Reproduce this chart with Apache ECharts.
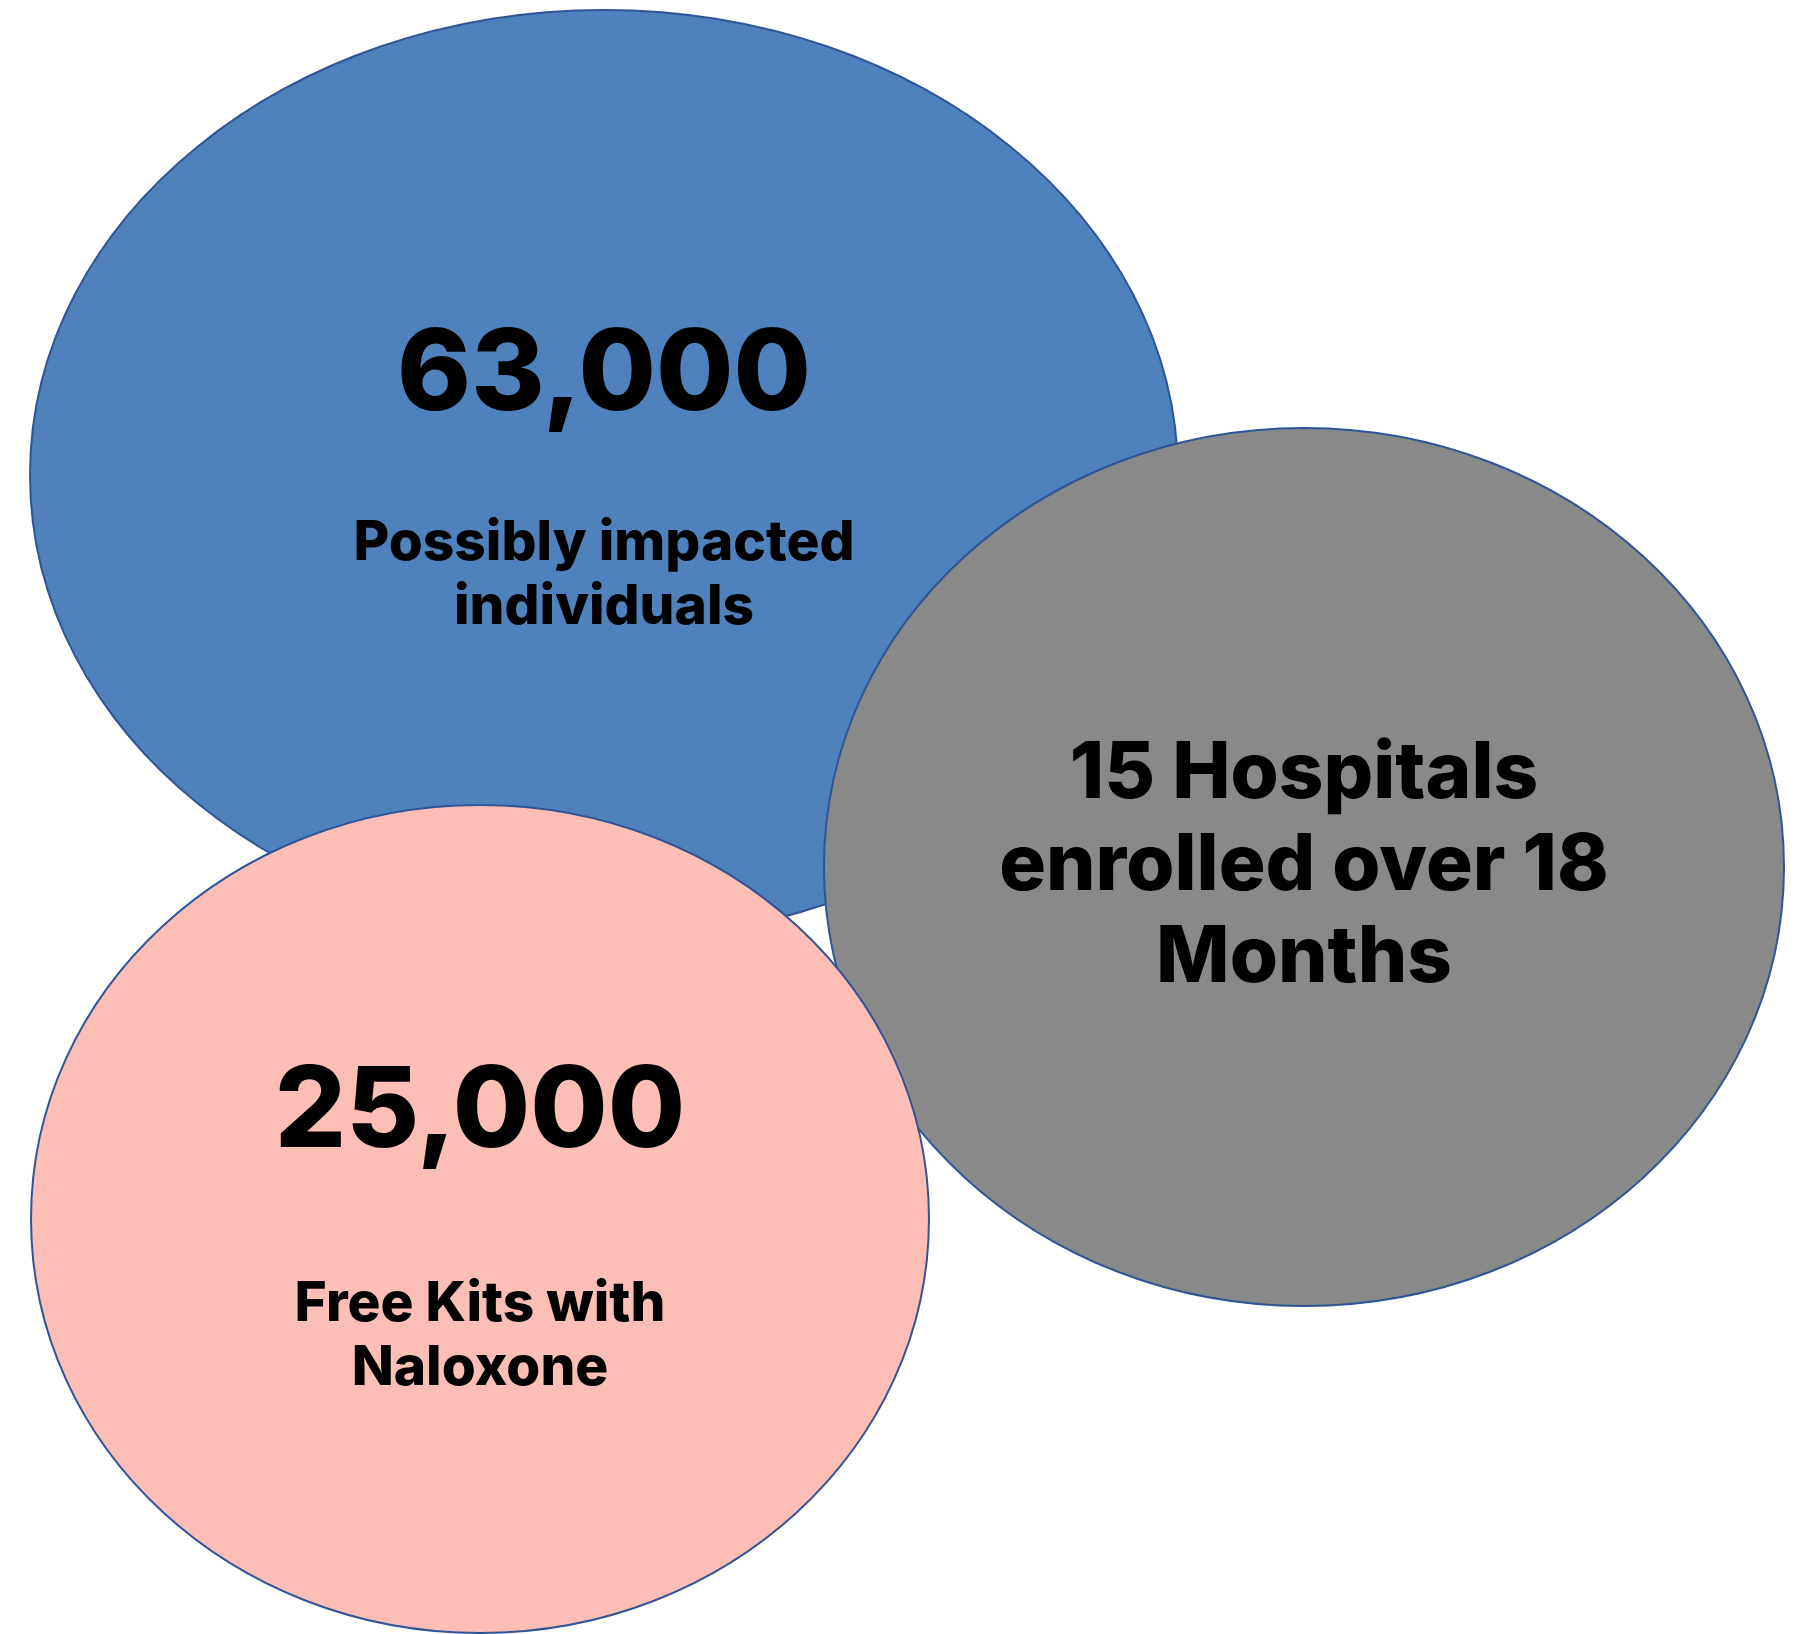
<!DOCTYPE html>
<html>
<head>
<meta charset="utf-8">
<script src="https://cdn.jsdelivr.net/npm/echarts@6/dist/echarts.min.js"></script>
<style>
  html, body { margin: 0; padding: 0; background: #ffffff; }
  #chart { width: 1806px; height: 1634px; }
</style>
</head>
<body>
<div id="chart"></div>
<script>
// Headline figures and captions for each bubble (drawn back to front)
const figures  = ['63,000', '', '25,000'];
const captions = [
  ['Possibly impacted', 'individuals'],
  ['15 Hospitals', 'enrolled over 18', 'Months'],
  ['Free Kits with', 'Naloxone']
];
const fills = ['#4F81BD', '#898989', '#FDBEB6'];

// Bubble geometry in layout units (centre x, centre y, radius x, radius y)
const centerX = [604, 1304, 480];
const centerY = [475, 867, 1219];
const radiusX = [574, 480, 449];
const radiusY = [465, 439, 414];
// Vertical placement of the figure and caption block relative to the centre
const figureDy  = [-99, 0, -106];
const captionDy = [100, 0, 117];

const FONT = 'Inter, "Open Sans", sans-serif';

const bigStyle = { fontFamily: FONT, fontWeight: 800, fontSize: 112, lineHeight: 130 };
const rich = {
  small: { fontFamily: FONT, fontWeight: 800, fontSize: 55, lineHeight: 64, fill: '#000' },
  mid:   { fontFamily: FONT, fontWeight: 800, fontSize: 78, lineHeight: 92, fill: '#000' }
};

function captionText(i) {
  const key = figures[i] ? 'small' : 'mid';
  return captions[i].map(c => '{' + key + '|' + c + '}').join('\n');
}

const data = centerX.map((x, i) => [x, centerY[i], radiusX[i], radiusY[i], i]);

const chart = echarts.init(document.getElementById('chart'), null, { renderer: 'canvas' });
chart.setOption({
  animation: false,
  backgroundColor: '#ffffff',
  grid: { left: 0, right: 0, top: 0, bottom: 0 },
  xAxis: { type: 'value', min: 0, max: 1806, show: false },
  yAxis: { type: 'value', min: 0, max: 1634, inverse: true, show: false },
  series: [{
    type: 'custom',
    coordinateSystem: 'cartesian2d',
    data: data,
    renderItem: function (params, api) {
      const idx = api.value(4);
      const c = api.coord([api.value(0), api.value(1)]);
      const s = api.size([api.value(2), api.value(3)]);
      const children = [{
        type: 'ellipse',
        shape: { cx: c[0], cy: c[1], rx: s[0], ry: s[1] },
        style: { fill: fills[idx], stroke: '#2F5597', lineWidth: 2 }
      }];
      if (figures[idx]) {
        children.push({
          type: 'text',
          x: c[0],
          y: c[1] + figureDy[idx],
          style: Object.assign({
            text: figures[idx],
            align: 'center',
            verticalAlign: 'middle',
            fill: '#000'
          }, bigStyle)
        });
      }
      children.push({
        type: 'text',
        x: c[0],
        y: c[1] + captionDy[idx],
        style: {
          text: captionText(idx),
          rich: rich,
          align: 'center',
          verticalAlign: 'middle',
          fill: '#000'
        }
      });
      return { type: 'group', children: children };
    }
  }]
});
</script>
</body>
</html>
